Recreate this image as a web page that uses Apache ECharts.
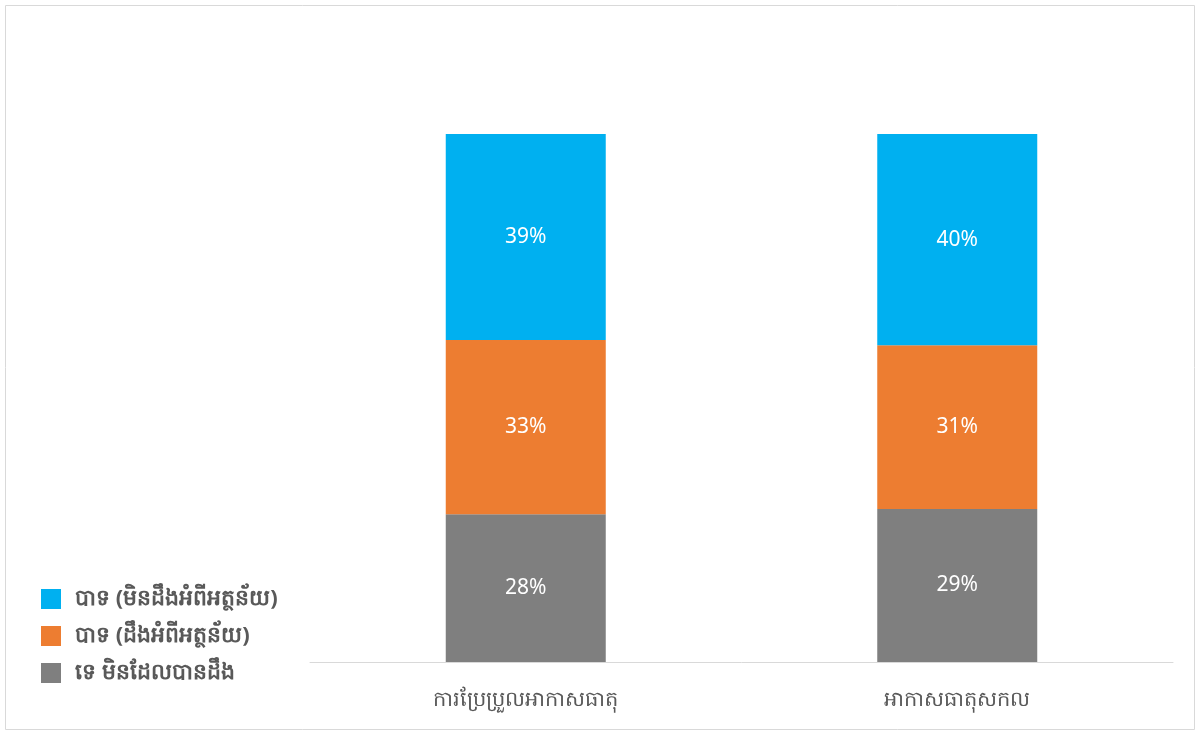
<!DOCTYPE html>
<html>
<head>
<meta charset="utf-8">
<script src="https://cdn.jsdelivr.net/npm/echarts@6/dist/echarts.min.js"></script>
<style>
  html, body { margin: 0; padding: 0; background: #fff; }
  #chart { width: 1199px; height: 733px; }
</style>
</head>
<body>
<div id="chart"></div>
<script>
var categories = ['ការប្រែប្រួលអាកាសធាតុ', 'អាកាសធាតុសកល'];
var seriesNames = ['ទេ មិនដែលបានដឹង', 'បាទ (ដឹងអំពីអត្ថន័យ)', 'បាទ (មិនដឹងអំពីអត្ថន័យ)'];
var neverHeard = [28, 29];
var knowMeaning = [33, 31];
var notKnowMeaning = [39, 40];
var colors = ['#7f7f7f', '#ed7d31', '#00b0f0'];

var chart = echarts.init(document.getElementById('chart'));

function makeSeries(name, data, color) {
    return {
        name: name,
        type: 'bar',
        stack: 'total',
        barWidth: 160,
        data: data,
        itemStyle: { color: color },
        label: {
            show: true,
            position: 'inside',
            formatter: '{c}%',
            color: '#fff',
            fontSize: 21,
            fontFamily: 'Noto Sans, sans-serif'
        }
    };
}

var option = {
    animation: false,
    textStyle: { fontFamily: 'Noto Sans, sans-serif' },
    graphic: [
        {
            type: 'rect',
            shape: { x: 5.5, y: 5.5, width: 1189, height: 724 },
            style: { fill: 'none', stroke: '#d9d9d9', lineWidth: 1 },
            silent: true
        }
    ],
    legend: {
        orient: 'vertical',
        left: 36,
        top: 583,
        itemWidth: 20,
        itemHeight: 20,
        itemGap: 15,
        icon: 'rect',
        data: [seriesNames[2], seriesNames[1], seriesNames[0]],
        textStyle: { color: '#595959', fontSize: 22, fontWeight: 'bold', padding: [0, 0, 0, 9] }
    },
    grid: { left: 310, right: 26, top: 134, bottom: 71 },
    xAxis: {
        type: 'category',
        data: categories,
        axisLine: { lineStyle: { color: '#d9d9d9', width: 1 } },
        axisTick: { show: false },
        axisLabel: { color: '#595959', fontSize: 21, margin: 28 }
    },
    yAxis: {
        type: 'value',
        min: 0,
        max: 100,
        show: false,
        splitLine: { show: false }
    },
    series: [
        makeSeries(seriesNames[0], neverHeard, colors[0]),
        makeSeries(seriesNames[1], knowMeaning, colors[1]),
        makeSeries(seriesNames[2], notKnowMeaning, colors[2])
    ]
};

chart.setOption(option);
</script>
</body>
</html>
